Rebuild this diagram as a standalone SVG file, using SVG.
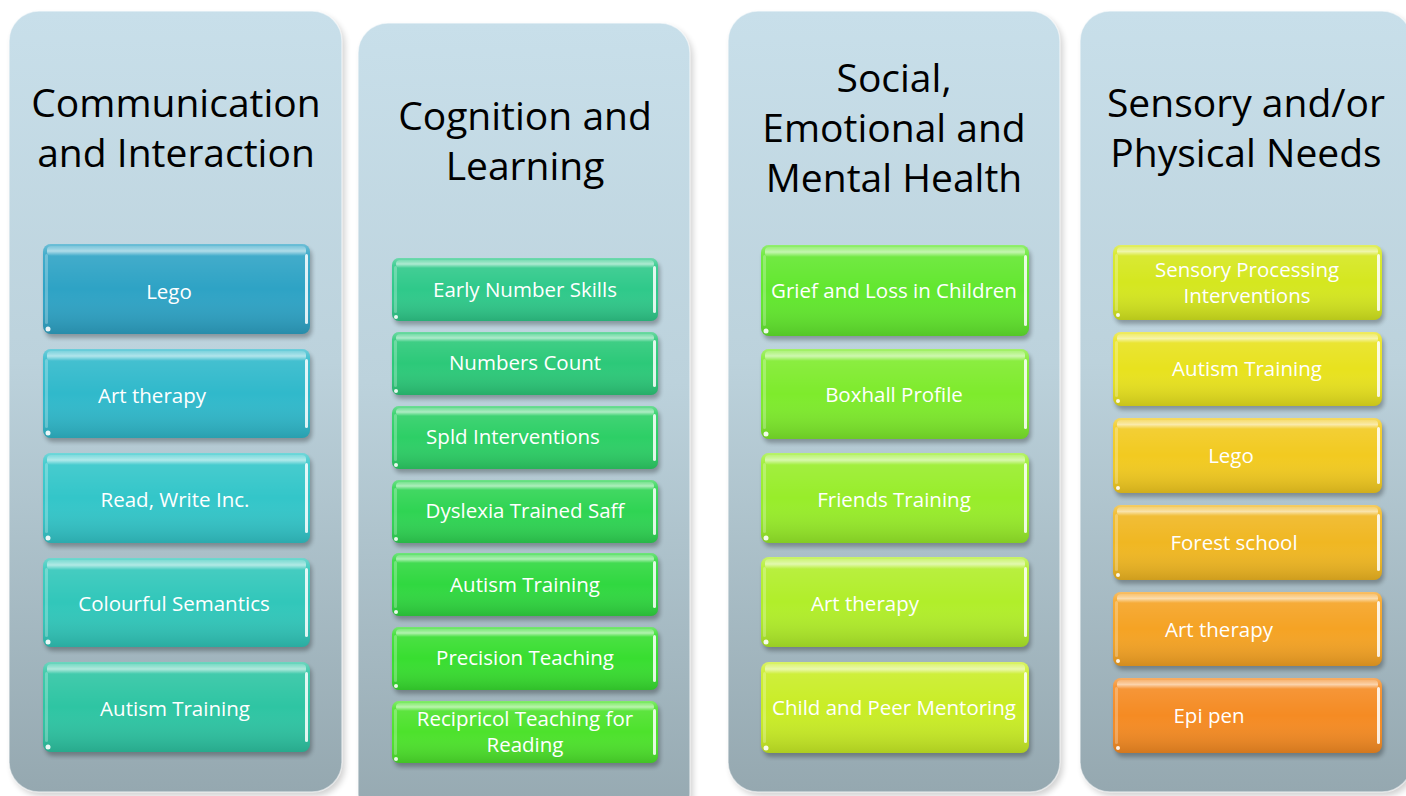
<svg xmlns="http://www.w3.org/2000/svg" width="1406" height="796" viewBox="0 0 1406 796">
<defs>
<linearGradient id="panelGrad" x1="0" y1="0" x2="0" y2="1">
<stop offset="0" stop-color="#c8dfea"/>
<stop offset="0.45" stop-color="#bcd2dc"/>
<stop offset="1" stop-color="#95a8b0"/>
</linearGradient>
<linearGradient id="sheen" x1="0" y1="0" x2="0" y2="1">
<stop offset="0" stop-color="#ffffff" stop-opacity="0.30"/>
<stop offset="0.12" stop-color="#ffffff" stop-opacity="0.10"/>
<stop offset="0.5" stop-color="#ffffff" stop-opacity="0"/>
<stop offset="1" stop-color="#000000" stop-opacity="0.14"/>
</linearGradient>
<linearGradient id="topBevel" x1="0" y1="0" x2="0" y2="1">
<stop offset="0" stop-color="#ffffff" stop-opacity="0.15"/>
<stop offset="0.5" stop-color="#ffffff" stop-opacity="0.55"/>
<stop offset="1" stop-color="#ffffff" stop-opacity="0"/>
</linearGradient>
<filter id="blur" x="-10%" y="-20%" width="120%" height="140%">
<feGaussianBlur stdDeviation="2"/>
</filter>
<filter id="pblur" x="-10%" y="-10%" width="120%" height="120%">
<feGaussianBlur stdDeviation="3"/>
</filter>
<style>
.panel{fill:url(#panelGrad);stroke:#ffffff;stroke-opacity:0.55;stroke-width:1.5}
.pshadow{fill:#000000;opacity:0.18;filter:url(#pblur)}
.head{font-family:"Open Sans","Noto Sans",sans-serif;font-size:39px;fill:#000000;text-anchor:middle}
.lbl{font-family:"Open Sans","Noto Sans",sans-serif;font-size:20.5px;fill:#ffffff;text-anchor:middle}
.shadow{fill:#000000;opacity:0.28;filter:url(#blur)}
.sheen{fill:url(#sheen)}
.bevel{fill:url(#topBevel)}
.hl{fill:#ffffff;opacity:0.85}
.hl2{fill:#ffffff;opacity:0.25}
.dot{fill:#ffffff;opacity:0.9}
</style>
</defs>
<rect width="1406" height="796" fill="#ffffff"/>

<!-- Panels -->
<g id="panel-communication">
<rect class="pshadow" x="12" y="15" width="333" height="781" rx="30"/>
<rect class="panel" x="9" y="11" width="333" height="781" rx="30"/>
<text class="head" x="176" y="117">Communication</text>
<text class="head" x="176" y="167">and Interaction</text>
</g>
<g id="panel-cognition">
<rect class="pshadow" x="361" y="27" width="332" height="800" rx="30"/>
<rect class="panel" x="358" y="23" width="332" height="800" rx="30"/>
<text class="head" x="525" y="130">Cognition and</text>
<text class="head" x="525" y="180">Learning</text>
</g>
<g id="panel-semh">
<rect class="pshadow" x="731" y="15" width="332" height="781" rx="30"/>
<rect class="panel" x="728" y="11" width="332" height="781" rx="30"/>
<text class="head" x="894" y="92">Social,</text>
<text class="head" x="894" y="142">Emotional and</text>
<text class="head" x="894" y="192">Mental Health</text>
</g>
<g id="panel-sensory">
<rect class="pshadow" x="1083" y="15" width="332" height="781" rx="30"/>
<rect class="panel" x="1080" y="11" width="332" height="781" rx="30"/>
<text class="head" x="1246" y="117">Sensory and/or</text>
<text class="head" x="1246" y="167">Physical Needs</text>
</g>

<!-- Panel 1 boxes: x=43 w=267 h=90 -->
<g id="c1-lego">
<rect class="shadow" x="45" y="248" width="267" height="90" rx="8"/>
<rect x="43" y="244" width="267" height="90" rx="8" fill="#2ea3c5"/>
<rect class="sheen" x="43" y="244" width="267" height="90" rx="8"/>
<rect class="bevel" x="47" y="246" width="259" height="10" rx="4"/>
<rect class="hl" x="305" y="254" width="3" height="70" rx="1.5"/>
<rect class="hl2" x="45" y="254" width="3" height="70" rx="1.5"/>
<circle class="dot" cx="48" cy="329" r="2.5"/>
<text class="lbl" x="169" y="299">Lego</text>
</g>
<g id="c1-art">
<rect class="shadow" x="45" y="353" width="267" height="89" rx="8"/>
<rect x="43" y="349" width="267" height="89" rx="8" fill="#30b9cb"/>
<rect class="sheen" x="43" y="349" width="267" height="89" rx="8"/>
<rect class="bevel" x="47" y="351" width="259" height="10" rx="4"/>
<rect class="hl" x="305" y="359" width="3" height="69" rx="1.5"/>
<rect class="hl2" x="45" y="359" width="3" height="69" rx="1.5"/>
<circle class="dot" cx="48" cy="433" r="2.5"/>
<text class="lbl" x="152" y="403">Art therapy</text>
</g>
<g id="c1-rwi">
<rect class="shadow" x="45" y="457" width="267" height="90" rx="8"/>
<rect x="43" y="453" width="267" height="90" rx="8" fill="#33c6c9"/>
<rect class="sheen" x="43" y="453" width="267" height="90" rx="8"/>
<rect class="bevel" x="47" y="455" width="259" height="10" rx="4"/>
<rect class="hl" x="305" y="463" width="3" height="70" rx="1.5"/>
<rect class="hl2" x="45" y="463" width="3" height="70" rx="1.5"/>
<circle class="dot" cx="48" cy="538" r="2.5"/>
<text class="lbl" x="175" y="507">Read, Write Inc.</text>
</g>
<g id="c1-colourful">
<rect class="shadow" x="45" y="562" width="267" height="89" rx="8"/>
<rect x="43" y="558" width="267" height="89" rx="8" fill="#31c7ba"/>
<rect class="sheen" x="43" y="558" width="267" height="89" rx="8"/>
<rect class="bevel" x="47" y="560" width="259" height="10" rx="4"/>
<rect class="hl" x="305" y="568" width="3" height="69" rx="1.5"/>
<rect class="hl2" x="45" y="568" width="3" height="69" rx="1.5"/>
<circle class="dot" cx="48" cy="642" r="2.5"/>
<text class="lbl" x="174" y="611">Colourful Semantics</text>
</g>
<g id="c1-autism">
<rect class="shadow" x="45" y="666" width="267" height="90" rx="8"/>
<rect x="43" y="662" width="267" height="90" rx="8" fill="#2ec5a3"/>
<rect class="sheen" x="43" y="662" width="267" height="90" rx="8"/>
<rect class="bevel" x="47" y="664" width="259" height="10" rx="4"/>
<rect class="hl" x="305" y="672" width="3" height="70" rx="1.5"/>
<rect class="hl2" x="45" y="672" width="3" height="70" rx="1.5"/>
<circle class="dot" cx="48" cy="747" r="2.5"/>
<text class="lbl" x="175" y="716">Autism Training</text>
</g>

<!-- Panel 2 boxes: x=392 w=266 h=63 -->
<g id="c2-early">
<rect class="shadow" x="394" y="262" width="266" height="63" rx="7"/>
<rect x="392" y="258" width="266" height="63" rx="7" fill="#2fc98a"/>
<rect class="sheen" x="392" y="258" width="266" height="63" rx="7"/>
<rect class="bevel" x="396" y="260" width="258" height="8" rx="4"/>
<rect class="hl" x="653" y="266" width="3" height="47" rx="1.5"/>
<rect class="hl2" x="394" y="266" width="3" height="47" rx="1.5"/>
<circle class="dot" cx="396" cy="317" r="2"/>
<text class="lbl" x="525" y="297">Early Number Skills</text>
</g>
<g id="c2-numbers">
<rect class="shadow" x="394" y="336" width="266" height="63" rx="7"/>
<rect x="392" y="332" width="266" height="63" rx="7" fill="#2cc979"/>
<rect class="sheen" x="392" y="332" width="266" height="63" rx="7"/>
<rect class="bevel" x="396" y="334" width="258" height="8" rx="4"/>
<rect class="hl" x="653" y="340" width="3" height="47" rx="1.5"/>
<rect class="hl2" x="394" y="340" width="3" height="47" rx="1.5"/>
<circle class="dot" cx="396" cy="391" r="2"/>
<text class="lbl" x="525" y="370">Numbers Count</text>
</g>
<g id="c2-spld">
<rect class="shadow" x="394" y="410" width="266" height="63" rx="7"/>
<rect x="392" y="406" width="266" height="63" rx="7" fill="#2dcf66"/>
<rect class="sheen" x="392" y="406" width="266" height="63" rx="7"/>
<rect class="bevel" x="396" y="408" width="258" height="8" rx="4"/>
<rect class="hl" x="653" y="414" width="3" height="47" rx="1.5"/>
<rect class="hl2" x="394" y="414" width="3" height="47" rx="1.5"/>
<circle class="dot" cx="396" cy="465" r="2"/>
<text class="lbl" x="513" y="444">Spld Interventions</text>
</g>
<g id="c2-dyslexia">
<rect class="shadow" x="394" y="484" width="266" height="63" rx="7"/>
<rect x="392" y="480" width="266" height="63" rx="7" fill="#2fd453"/>
<rect class="sheen" x="392" y="480" width="266" height="63" rx="7"/>
<rect class="bevel" x="396" y="482" width="258" height="8" rx="4"/>
<rect class="hl" x="653" y="488" width="3" height="47" rx="1.5"/>
<rect class="hl2" x="394" y="488" width="3" height="47" rx="1.5"/>
<circle class="dot" cx="396" cy="539" r="2"/>
<text class="lbl" x="525" y="518">Dyslexia Trained Saff</text>
</g>
<g id="c2-autism">
<rect class="shadow" x="394" y="557" width="266" height="63" rx="7"/>
<rect x="392" y="553" width="266" height="63" rx="7" fill="#30d840"/>
<rect class="sheen" x="392" y="553" width="266" height="63" rx="7"/>
<rect class="bevel" x="396" y="555" width="258" height="8" rx="4"/>
<rect class="hl" x="653" y="561" width="3" height="47" rx="1.5"/>
<rect class="hl2" x="394" y="561" width="3" height="47" rx="1.5"/>
<circle class="dot" cx="396" cy="612" r="2"/>
<text class="lbl" x="525" y="592">Autism Training</text>
</g>
<g id="c2-precision">
<rect class="shadow" x="394" y="631" width="266" height="63" rx="7"/>
<rect x="392" y="627" width="266" height="63" rx="7" fill="#38de30"/>
<rect class="sheen" x="392" y="627" width="266" height="63" rx="7"/>
<rect class="bevel" x="396" y="629" width="258" height="8" rx="4"/>
<rect class="hl" x="653" y="635" width="3" height="47" rx="1.5"/>
<rect class="hl2" x="394" y="635" width="3" height="47" rx="1.5"/>
<circle class="dot" cx="396" cy="686" r="2"/>
<text class="lbl" x="525" y="665">Precision Teaching</text>
</g>
<g id="c2-reciprocal">
<rect class="shadow" x="394" y="705" width="266" height="62" rx="7"/>
<rect x="392" y="701" width="266" height="62" rx="7" fill="#4de22c"/>
<rect class="sheen" x="392" y="701" width="266" height="62" rx="7"/>
<rect class="bevel" x="396" y="703" width="258" height="8" rx="4"/>
<rect class="hl" x="653" y="709" width="3" height="46" rx="1.5"/>
<rect class="hl2" x="394" y="709" width="3" height="46" rx="1.5"/>
<circle class="dot" cx="396" cy="759" r="2"/>
<text class="lbl" x="525" y="726">Recipricol Teaching for</text>
<text class="lbl" x="525" y="752">Reading</text>
</g>

<!-- Panel 3 boxes: x=761 w=268 h=90 -->
<g id="c3-grief">
<rect class="shadow" x="763" y="249" width="268" height="91" rx="8"/>
<rect x="761" y="245" width="268" height="91" rx="8" fill="#62e72e"/>
<rect class="sheen" x="761" y="245" width="268" height="91" rx="8"/>
<rect class="bevel" x="765" y="247" width="260" height="10" rx="4"/>
<rect class="hl" x="1024" y="255" width="3" height="71" rx="1.5"/>
<rect class="hl2" x="763" y="255" width="3" height="71" rx="1.5"/>
<circle class="dot" cx="766" cy="331" r="2.5"/>
<text class="lbl" x="894" y="298">Grief and Loss in Children</text>
</g>
<g id="c3-boxhall">
<rect class="shadow" x="763" y="353" width="268" height="90" rx="8"/>
<rect x="761" y="349" width="268" height="90" rx="8" fill="#7eeb2c"/>
<rect class="sheen" x="761" y="349" width="268" height="90" rx="8"/>
<rect class="bevel" x="765" y="351" width="260" height="10" rx="4"/>
<rect class="hl" x="1024" y="359" width="3" height="70" rx="1.5"/>
<rect class="hl2" x="763" y="359" width="3" height="70" rx="1.5"/>
<circle class="dot" cx="766" cy="434" r="2.5"/>
<text class="lbl" x="894" y="402">Boxhall Profile</text>
</g>
<g id="c3-friends">
<rect class="shadow" x="763" y="457" width="268" height="90" rx="8"/>
<rect x="761" y="453" width="268" height="90" rx="8" fill="#98ed2a"/>
<rect class="sheen" x="761" y="453" width="268" height="90" rx="8"/>
<rect class="bevel" x="765" y="455" width="260" height="10" rx="4"/>
<rect class="hl" x="1024" y="463" width="3" height="70" rx="1.5"/>
<rect class="hl2" x="763" y="463" width="3" height="70" rx="1.5"/>
<circle class="dot" cx="766" cy="538" r="2.5"/>
<text class="lbl" x="894" y="507">Friends Training</text>
</g>
<g id="c3-art">
<rect class="shadow" x="763" y="561" width="268" height="90" rx="8"/>
<rect x="761" y="557" width="268" height="90" rx="8" fill="#b1ee2a"/>
<rect class="sheen" x="761" y="557" width="268" height="90" rx="8"/>
<rect class="bevel" x="765" y="559" width="260" height="10" rx="4"/>
<rect class="hl" x="1024" y="567" width="3" height="70" rx="1.5"/>
<rect class="hl2" x="763" y="567" width="3" height="70" rx="1.5"/>
<circle class="dot" cx="766" cy="642" r="2.5"/>
<text class="lbl" x="865" y="611">Art therapy</text>
</g>
<g id="c3-mentoring">
<rect class="shadow" x="763" y="666" width="268" height="91" rx="8"/>
<rect x="761" y="662" width="268" height="91" rx="8" fill="#c9ed26"/>
<rect class="sheen" x="761" y="662" width="268" height="91" rx="8"/>
<rect class="bevel" x="765" y="664" width="260" height="10" rx="4"/>
<rect class="hl" x="1024" y="672" width="3" height="71" rx="1.5"/>
<rect class="hl2" x="763" y="672" width="3" height="71" rx="1.5"/>
<circle class="dot" cx="766" cy="748" r="2.5"/>
<text class="lbl" x="894" y="715">Child and Peer Mentoring</text>
</g>

<!-- Panel 4 boxes: x=1113 w=269 h=75 -->
<g id="c4-sensory">
<rect class="shadow" x="1115" y="249" width="269" height="75" rx="8"/>
<rect x="1113" y="245" width="269" height="75" rx="8" fill="#d5e71f"/>
<rect class="sheen" x="1113" y="245" width="269" height="75" rx="8"/>
<rect class="bevel" x="1117" y="247" width="261" height="9" rx="4"/>
<rect class="hl" x="1377" y="254" width="3" height="57" rx="1.5"/>
<rect class="hl2" x="1115" y="254" width="3" height="57" rx="1.5"/>
<circle class="dot" cx="1118" cy="315" r="2"/>
<text class="lbl" x="1247" y="277">Sensory Processing</text>
<text class="lbl" x="1247" y="303">Interventions</text>
</g>
<g id="c4-autism">
<rect class="shadow" x="1115" y="336" width="269" height="74" rx="8"/>
<rect x="1113" y="332" width="269" height="74" rx="8" fill="#e8e21e"/>
<rect class="sheen" x="1113" y="332" width="269" height="74" rx="8"/>
<rect class="bevel" x="1117" y="334" width="261" height="9" rx="4"/>
<rect class="hl" x="1377" y="341" width="3" height="56" rx="1.5"/>
<rect class="hl2" x="1115" y="341" width="3" height="56" rx="1.5"/>
<circle class="dot" cx="1118" cy="401" r="2"/>
<text class="lbl" x="1247" y="376">Autism Training</text>
</g>
<g id="c4-lego">
<rect class="shadow" x="1115" y="422" width="269" height="75" rx="8"/>
<rect x="1113" y="418" width="269" height="75" rx="8" fill="#f2ca20"/>
<rect class="sheen" x="1113" y="418" width="269" height="75" rx="8"/>
<rect class="bevel" x="1117" y="420" width="261" height="9" rx="4"/>
<rect class="hl" x="1377" y="427" width="3" height="57" rx="1.5"/>
<rect class="hl2" x="1115" y="427" width="3" height="57" rx="1.5"/>
<circle class="dot" cx="1118" cy="488" r="2"/>
<text class="lbl" x="1231" y="463">Lego</text>
</g>
<g id="c4-forest">
<rect class="shadow" x="1115" y="509" width="269" height="75" rx="8"/>
<rect x="1113" y="505" width="269" height="75" rx="8" fill="#f0b722"/>
<rect class="sheen" x="1113" y="505" width="269" height="75" rx="8"/>
<rect class="bevel" x="1117" y="507" width="261" height="9" rx="4"/>
<rect class="hl" x="1377" y="514" width="3" height="57" rx="1.5"/>
<rect class="hl2" x="1115" y="514" width="3" height="57" rx="1.5"/>
<circle class="dot" cx="1118" cy="575" r="2"/>
<text class="lbl" x="1234" y="550">Forest school</text>
</g>
<g id="c4-art">
<rect class="shadow" x="1115" y="596" width="269" height="74" rx="8"/>
<rect x="1113" y="592" width="269" height="74" rx="8" fill="#f5a324"/>
<rect class="sheen" x="1113" y="592" width="269" height="74" rx="8"/>
<rect class="bevel" x="1117" y="594" width="261" height="9" rx="4"/>
<rect class="hl" x="1377" y="601" width="3" height="56" rx="1.5"/>
<rect class="hl2" x="1115" y="601" width="3" height="56" rx="1.5"/>
<circle class="dot" cx="1118" cy="661" r="2"/>
<text class="lbl" x="1219" y="637">Art therapy</text>
</g>
<g id="c4-epipen">
<rect class="shadow" x="1115" y="682" width="269" height="75" rx="8"/>
<rect x="1113" y="678" width="269" height="75" rx="8" fill="#f58b23"/>
<rect class="sheen" x="1113" y="678" width="269" height="75" rx="8"/>
<rect class="bevel" x="1117" y="680" width="261" height="9" rx="4"/>
<rect class="hl" x="1377" y="687" width="3" height="57" rx="1.5"/>
<rect class="hl2" x="1115" y="687" width="3" height="57" rx="1.5"/>
<circle class="dot" cx="1118" cy="748" r="2"/>
<text class="lbl" x="1209" y="723">Epi pen</text>
</g>

<g id="connectors"/>
</svg>
